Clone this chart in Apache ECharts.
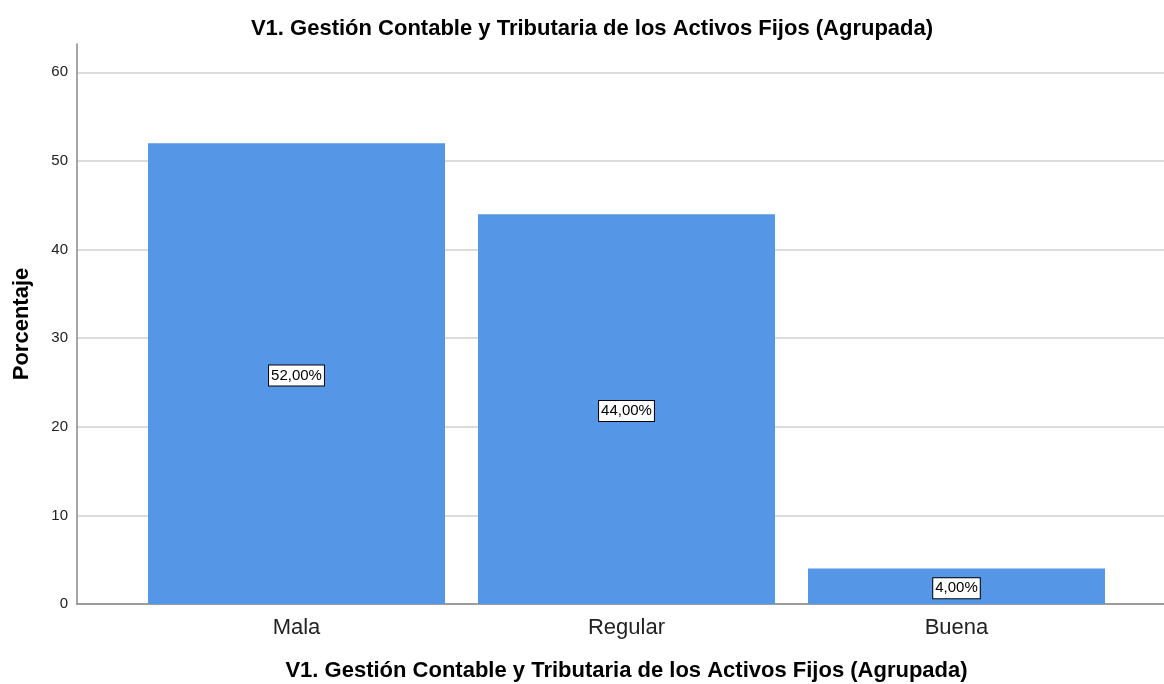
<!DOCTYPE html>
<html><head><meta charset="utf-8">
<script src="https://cdn.jsdelivr.net/npm/echarts@6/dist/echarts.min.js"></script>
<style>html,body{margin:0;padding:0;background:#fff}#c{width:1164px;height:684px}</style>
</head><body><div id="c"></div>
<script>
const titleText = 'V1. Gestión Contable y Tributaria de los Activos Fijos (Agrupada)';
const categories = ['Mala', 'Regular', 'Buena'];
const values = [52, 44, 4];
const valueLabels = ['52,00%', '44,00%', '4,00%'];
const yName = 'Porcentaje';
const xName = 'V1. Gestión Contable y Tributaria de los Activos Fijos (Agrupada)';

const FONT = '"Liberation Sans", Arial, sans-serif';
const chart = echarts.init(document.getElementById('c'));
const gridCol = ['#d0d0d0','#d0d0d0','#d0d0d0','#d0d0d0','#d0d0d0','#d0d0d0','#d0d0d0','transparent'];
chart.setOption({
  animation: false,
  title: { text: titleText, left: 587, top: 13, textAlign: 'center',
    textStyle: { fontFamily: FONT, fontSize: 22, fontWeight: 'bold', color: '#000' } },
  grid: [
    { left: 77, right: 0, top: 44, bottom: 80, outerBoundsMode: 'none', containLabel: false },
    { left: 131.5, right: 42.5, top: 44, bottom: 80, outerBoundsMode: 'none', containLabel: false }
  ],
  xAxis: [
    { gridIndex: 0, type: 'value', min: 0, max: 1, axisLine: { show: true, onZero: false, lineStyle: { color: '#888', width: 1.5 } },
      axisTick: { show: false }, axisLabel: { show: false }, splitLine: { show: false } },
    { gridIndex: 1, type: 'category', data: categories,
      axisLine: { show: false }, axisTick: { show: false },
      axisLabel: { fontFamily: FONT, fontSize: 22, color: '#222', margin: 13 },
      name: xName, nameLocation: 'middle', nameGap: 56,
      nameTextStyle: { fontFamily: FONT, fontSize: 22, fontWeight: 'bold', color: '#000' } }
  ],
  yAxis: [
    { gridIndex: 0, type: 'value', min: 0, max: 63.2, interval: 10,
      axisLine: { show: true, lineStyle: { color: '#888', width: 1.5 } }, axisTick: { show: false },
      axisLabel: { fontFamily: FONT, fontSize: 15, color: '#222', margin: 9,
        formatter: v => (Math.abs(v % 10) < 1e-6 ? String(v) : '') },
      splitLine: { show: true, lineStyle: { color: gridCol, width: 1.5 } },
      name: yName, nameLocation: 'middle', nameGap: 44,
      nameTextStyle: { fontFamily: FONT, fontSize: 22, fontWeight: 'bold', color: '#000' } },
    { gridIndex: 1, type: 'value', min: 0, max: 63.2, show: false, splitLine: { show: false } }
  ],
  series: [{
    type: 'bar', xAxisIndex: 1, yAxisIndex: 1, data: values, barWidth: 297,
    itemStyle: { color: '#5596E6' },
    label: { show: true, position: 'inside', offset: [0, 2], formatter: p => valueLabels[p.dataIndex],
      fontFamily: FONT, fontSize: 15, color: '#000', backgroundColor: '#fff',
      borderColor: '#000', borderWidth: 1, padding: [3, 2, 2, 2] }
  }]
});
</script></body></html>
